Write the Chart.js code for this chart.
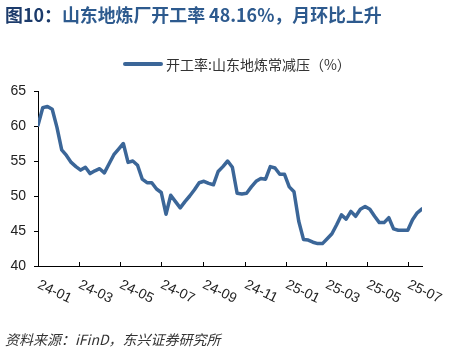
<!DOCTYPE html>
<html>
<head>
<meta charset="utf-8">
<script src="https://cdn.jsdelivr.net/npm/chart.js@4.4.1/dist/chart.umd.min.js"></script>
<style>
  html, body { margin:0; padding:0; background:#fff; }
  body { width:471px; height:358px; position:relative; overflow:hidden; }
  #c { position:absolute; left:0; top:0; }
  .title { position:absolute; left:5px; top:3px; font-family:"Noto Sans CJK SC","Noto Sans",sans-serif; font-weight:bold; font-size:17.9px; color:#2D5A8E; white-space:nowrap; line-height:22px; }
  .title .pre { color:#1C3B6B; }
  .legend { position:absolute; left:123px; top:55px; height:18px; display:flex; align-items:center; font-family:"Noto Sans CJK SC",sans-serif; font-size:14px; color:#333; white-space:nowrap; }
  .legend .ln { display:inline-block; width:40px; height:4px; background:#3B6698; margin-right:3px; border-radius:2px; }
  .footer { position:absolute; left:5px; top:329px; font-family:"Noto Sans CJK SC",sans-serif; font-style:italic; font-size:14px; color:#333; white-space:nowrap; }
</style>
</head>
<body>
<canvas id="c" width="471" height="358"></canvas>
<div class="title"><span class="pre">图10：</span>山东地炼厂开工率 48.16%，月环比上升</div>
<div class="legend"><span class="ln"></span><span id="legtxt"></span></div>
<div class="footer">资料来源：iFinD，东兴证券研究所</div>
<script>
const seriesLabel = "开工率:山东地炼常减压（%）";
const dates = [
 "2024-01-04","2024-01-11","2024-01-18","2024-01-25","2024-02-01","2024-02-08","2024-02-15","2024-02-22","2024-02-29",
 "2024-03-07","2024-03-14","2024-03-21","2024-03-28","2024-04-04","2024-04-11","2024-04-18","2024-04-25",
 "2024-05-02","2024-05-09","2024-05-16","2024-05-23","2024-05-30","2024-06-06","2024-06-13","2024-06-20","2024-06-27",
 "2024-07-04","2024-07-11","2024-07-18","2024-07-25","2024-08-01","2024-08-08","2024-08-15","2024-08-22","2024-08-29",
 "2024-09-05","2024-09-12","2024-09-19","2024-09-26","2024-10-03","2024-10-10","2024-10-17","2024-10-24","2024-10-31",
 "2024-11-07","2024-11-14","2024-11-21","2024-11-28","2024-12-05","2024-12-12","2024-12-19","2024-12-26",
 "2025-01-02","2025-01-09","2025-01-16","2025-01-23","2025-01-30","2025-02-06","2025-02-13","2025-02-20","2025-02-27",
 "2025-03-06","2025-03-13","2025-03-20","2025-03-27","2025-04-03","2025-04-10","2025-04-17","2025-04-24",
 "2025-05-01","2025-05-08","2025-05-15","2025-05-22","2025-05-29","2025-06-05","2025-06-12","2025-06-19","2025-06-26",
 "2025-07-03","2025-07-10","2025-07-17","2025-07-24"
];
const values = [
 60.1,62.6,62.8,62.4,59.8,56.6,55.8,54.8,54.2,
 53.7,54.1,53.2,53.6,53.9,53.3,54.6,55.9,
 56.7,57.5,54.8,55.0,54.4,52.4,51.9,51.9,51.0,
 50.5,47.4,50.1,49.2,48.3,49.2,50.0,50.9,51.9,
 52.1,51.8,51.6,53.5,54.2,55.0,54.1,50.4,50.3,
 50.4,51.3,52.1,52.5,52.4,54.2,54.0,53.1,
 53.1,51.3,50.6,46.4,43.8,43.7,43.4,43.2,43.2,
 43.9,44.6,45.9,47.3,46.7,47.8,47.1,48.1,
 48.5,48.1,47.1,46.2,46.2,46.9,45.3,45.1,45.1,
 45.1,46.6,47.6,48.16
];
const tickDates = ["2024-01-04","2024-03-04","2024-05-04","2024-07-04","2024-09-04","2024-11-04","2025-01-04","2025-03-04","2025-05-04","2025-07-04"];
const tickLabels = ["24-01","24-03","24-05","24-07","24-09","24-11","25-01","25-03","25-05","25-07"];
const yTicks = [40,45,50,55,60,65];

document.getElementById('legtxt').textContent = seriesLabel;

const t0 = Date.parse(dates[0] + "T00:00:00Z");
const dayOf = s => Math.round((Date.parse(s + "T00:00:00Z") - t0) / 86400000);
const points = dates.map((d, i) => ({ x: dayOf(d), y: values[i] }));
const lastDay = dayOf(dates[dates.length - 1]);

const xLabelPlugin = {
  id: 'xLabelPlugin',
  afterDraw(chart) {
    const ctx = chart.ctx;
    const xs = chart.scales.x;
    const bottom = chart.chartArea.bottom;
    ctx.save();
    ctx.strokeStyle = '#000';
    ctx.lineWidth = 1;
    ctx.fillStyle = '#222';
    ctx.font = '14px "Liberation Sans", Arial, sans-serif';
    ctx.textAlign = 'left';
    ctx.textBaseline = 'middle';
    tickDates.forEach((d, i) => {
      const x = Math.round(xs.getPixelForValue(dayOf(d))) + 0.5;
      if (i > 0) {
        ctx.beginPath();
        ctx.moveTo(x, bottom);
        ctx.lineTo(x, bottom - 4);
        ctx.stroke();
      }
      ctx.save();
      ctx.translate(x, bottom + 18);
      ctx.rotate(26 * Math.PI / 180);
      ctx.fillText(tickLabels[i], 0, 0);
      ctx.restore();
    });
    ctx.restore();
  }
};

new Chart(document.getElementById('c'), {
  type: 'line',
  data: {
    datasets: [{
      label: seriesLabel,
      data: points,
      borderColor: '#3B6698',
      backgroundColor: '#3B6698',
      borderWidth: 3.5,
      pointRadius: 0,
      tension: 0,
      fill: false,
      borderJoinStyle: 'round',
      borderCapStyle: 'round'
    }]
  },
  options: {
    responsive: false,
    animation: false,
    devicePixelRatio: 1,
    layout: { padding: { top: 91, right: 49, left: 0, bottom: 0 } },
    plugins: { legend: { display: false }, tooltip: { enabled: false } },
    scales: {
      x: {
        type: 'linear', min: 0, max: lastDay,
        ticks: { display: false },
        grid: { display: false },
        border: { display: true, color: '#000', width: 1 },
        afterFit(s) { s.height = 92; }
      },
      y: {
        min: 40, max: 65,
        afterBuildTicks(s) { s.ticks = yTicks.map(v => ({ value: v })); },
        ticks: { font: { family: '"Liberation Sans", Arial, sans-serif', size: 14 }, color: '#222', padding: 8 },
        grid: { drawOnChartArea: false, drawTicks: true, tickLength: 4, color: '#000' },
        border: { color: '#000', width: 1 },
        afterFit(s) { s.width = 38; }
      }
    }
  },
  plugins: [xLabelPlugin]
});
</script>
</body>
</html>
